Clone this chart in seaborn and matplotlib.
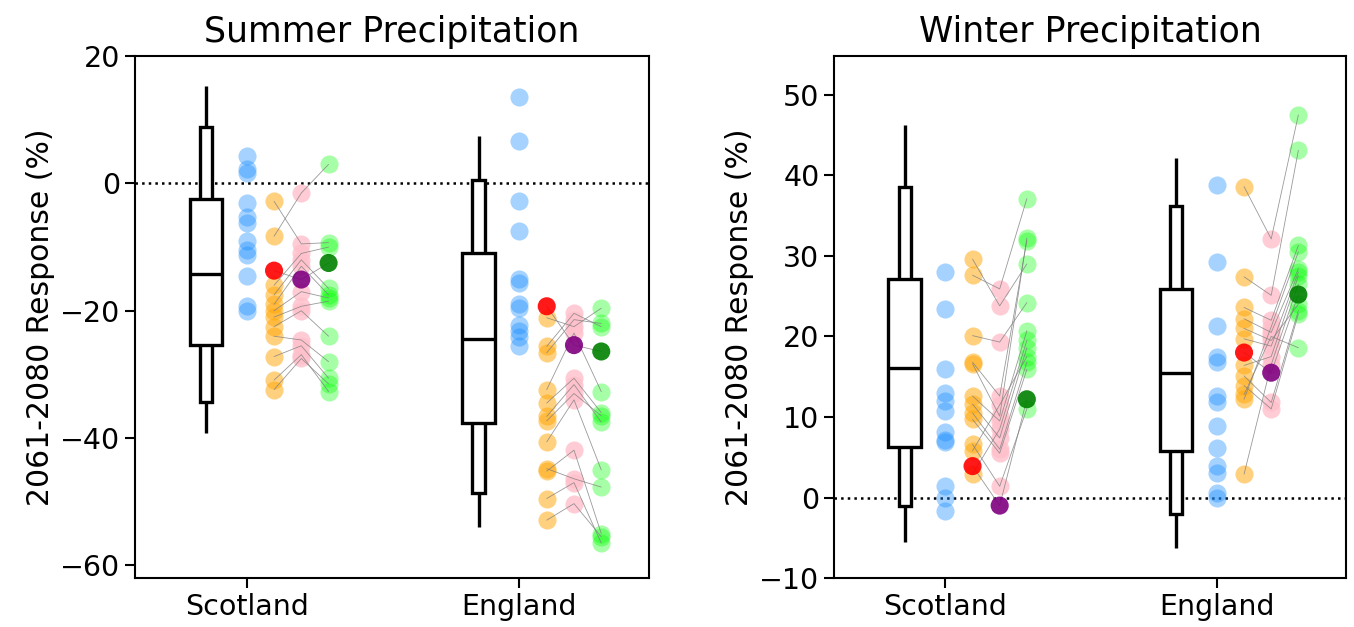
import numpy as np
import pandas as pd
import matplotlib
matplotlib.use("Agg")
import matplotlib.pyplot as plt
import seaborn as sns

regions = ["Scotland", "England"]

# ---- Summer precipitation (% change 2061-2080) ----
# box stats: whisker low, inner low, q1, median, q3, inner high, whisker high
summer_box = [
    [-39.2, -34.4, -25.4, -14.2, -2.4, 8.8, 15.3],
    [-54.0, -48.7, -37.7, -24.5, -11.0, 0.6, 7.4],
]
summer_blue = [
    [4.3, 2.3, 1.6, -3.0, -5.2, -6.2, -9.1, -10.4, -11.2, -14.6, -19.2, -20.0],
    [13.5, 6.7, -2.8, -7.5, -15.0, -15.6, -19.0, -19.6, -22.3, -23.2, -24.2, -25.6],
]
summer_orange = [
    [-8.3, -2.8, -16.0, -17.5, -19.0, -20.0, -21.0, -22.5, -24.0, -27.2, -30.9, -32.4],
    [-21.1, -25.6, -26.6, -32.4, -34.5, -36.6, -37.3, -40.6, -44.8, -45.2, -49.5, -52.9],
]
summer_pink = [
    [-1.5, -9.5, -11.0, -12.0, -13.0, -17.0, -19.3, -20.0, -24.6, -25.5, -26.9, -27.5],
    [-22.5, -20.4, -21.4, -23.5, -30.6, -31.6, -33.0, -34.0, -46.4, -41.9, -47.0, -50.3],
]
summer_green = [
    [3.0, -9.3, -10.0, -16.5, -17.5, -18.0, -18.5, -24.0, -28.0, -30.6, -32.7, -31.5],
    [-19.6, -22.5, -22.0, -32.7, -36.0, -37.5, -36.5, -45.0, -47.7, -55.0, -56.5, -55.5],
]
summer_red = [-13.7, -19.3]
summer_purple = [-15.1, -25.4]
summer_dkgreen = [-12.5, -26.4]

# ---- Winter precipitation ----
winter_box = [
    [-5.5, -1.1, 6.3, 16.1, 27.1, 38.6, 46.2],
    [-6.3, -2.0, 5.8, 15.4, 25.9, 36.2, 42.1],
]
winter_blue = [
    [28.0, 23.4, 15.9, 13.0, 12.0, 10.7, 8.1, 7.2, 6.9, 1.4, 0.0, -1.7],
    [38.8, 29.3, 21.3, 17.4, 16.8, 12.6, 11.8, 8.9, 6.2, 3.9, 3.1, 0.6, 0.0],
]
winter_orange = [
    [29.6, 27.6, 20.1, 16.8, 16.6, 12.6, 11.6, 10.5, 9.7, 6.6, 5.8, 2.9],
    [38.6, 27.4, 23.6, 22.2, 19.7, 16.4, 15.1, 13.9, 12.8, 12.2, 2.9, 21.0],
]
winter_pink = [
    [23.8, 25.9, 19.3, 12.6, 10.1, 9.5, 7.4, 6.0, 5.5, 1.4, 11.5, 8.5],
    [32.1, 25.1, 22.0, 20.5, 18.8, 17.5, 11.8, 11.0, 20.0, 21.2, 16.5, 19.5],
]
winter_green = [
    [29.0, 37.1, 24.2, 31.9, 32.2, 20.7, 18.6, 16.8, 15.9, 11.0, 17.5, 19.5],
    [47.5, 43.1, 31.3, 28.4, 28.0, 27.5, 23.2, 22.8, 18.6, 30.5, 26.5, 24.0],
]
winter_red = [3.9, 18.0]
winter_purple = [-1.0, 15.5]
winter_dkgreen = [12.2, 25.2]

sns.set_style("ticks")
plt.rcParams['font.family'] = ['DejaVu Sans']
plt.rcParams['axes.linewidth'] = 1.5
plt.rcParams['text.color'] = 'black'
plt.rcParams['axes.labelcolor'] = 'black'


def draw_panel(ax, box, blue, orange, pink, green, red, purple, dkgreen, title, ylim, yticks):
    for i, reg in enumerate(regions):
        wlo, nlo, q1, med, q3, nhi, whi = box[i]
        bx = i - 0.15
        ax.vlines([bx, bx], [wlo, nhi], [nlo, whi], color="black", lw=2.4, zorder=1)
        ax.bar(bx, nhi - nlo, bottom=nlo, width=0.045, facecolor="white",
               edgecolor="black", linewidth=2.4, zorder=2)
        ax.bar(bx, q3 - q1, bottom=q1, width=0.12, facecolor="white",
               edgecolor="black", linewidth=2.4, zorder=2)
        ax.hlines(med, bx - 0.06, bx + 0.06, color="black", lw=2.4, zorder=3)

        groups = [(blue[i], 0.0, "dodgerblue", 0.4),
                  (orange[i], 0.1, "orange", 0.5),
                  (pink[i], 0.2, "pink", 0.8),
                  (green[i], 0.3, "lime", 0.35)]
        for vals, off, col, a in groups:
            df = pd.DataFrame({"x": i + off, "y": vals})
            sns.scatterplot(data=df, x="x", y="y", color=col, alpha=a, s=170,
                            linewidth=0, ax=ax, zorder=4)

        # member chains orange -> pink -> green
        for o, p, g in zip(orange[i], pink[i], green[i]):
            ax.plot([i + 0.1, i + 0.2, i + 0.3], [o, p, g], color="grey",
                    lw=0.6, alpha=0.8, zorder=5)
        ax.plot([i + 0.1, i + 0.2, i + 0.3], [red[i], purple[i], dkgreen[i]],
                color="grey", lw=0.6, alpha=0.8, zorder=5)

        hl = pd.DataFrame({"x": [i + 0.1, i + 0.2, i + 0.3],
                           "y": [red[i], purple[i], dkgreen[i]],
                           "c": ["red", "purple", "green"]})
        sns.scatterplot(data=hl, x="x", y="y", hue="c",
                        palette={"red": "red", "purple": "purple", "green": "green"},
                        s=170, linewidth=0, alpha=0.9, ax=ax, zorder=6, legend=False)

    ax.axhline(0, color="black", ls=":", lw=1.8, zorder=0)
    ax.set_xlim(-0.41, 1.475)
    ax.set_ylim(*ylim)
    ax.set_yticks(yticks)
    ax.set_xticks([0, 1])
    ax.set_xticklabels(regions)
    ax.set_xlabel("")
    ax.set_ylabel("2061-2080 Response (%)", fontsize=21.5)
    ax.set_title(title, fontsize=25, pad=10)
    ax.tick_params(labelsize=20.5, length=7, width=1.5, colors="black")
    for sp in ax.spines.values():
        sp.set_visible(True)
        sp.set_color("black")


fig = plt.figure(figsize=(13.54, 6.27), dpi=100)
ax1 = fig.add_axes([0.0997, 0.078, 0.3796, 0.8325])
ax2 = fig.add_axes([0.616, 0.078, 0.378, 0.8325])

draw_panel(ax1, summer_box, summer_blue, summer_orange, summer_pink, summer_green,
           summer_red, summer_purple, summer_dkgreen, "Summer Precipitation",
           (-62, 20), [-60, -40, -20, 0, 20])
draw_panel(ax2, winter_box, winter_blue, winter_orange, winter_pink, winter_green,
           winter_red, winter_purple, winter_dkgreen, "Winter Precipitation",
           (-10, 54.8), [-10, 0, 10, 20, 30, 40, 50])

fig.savefig("out.png", dpi=100)
